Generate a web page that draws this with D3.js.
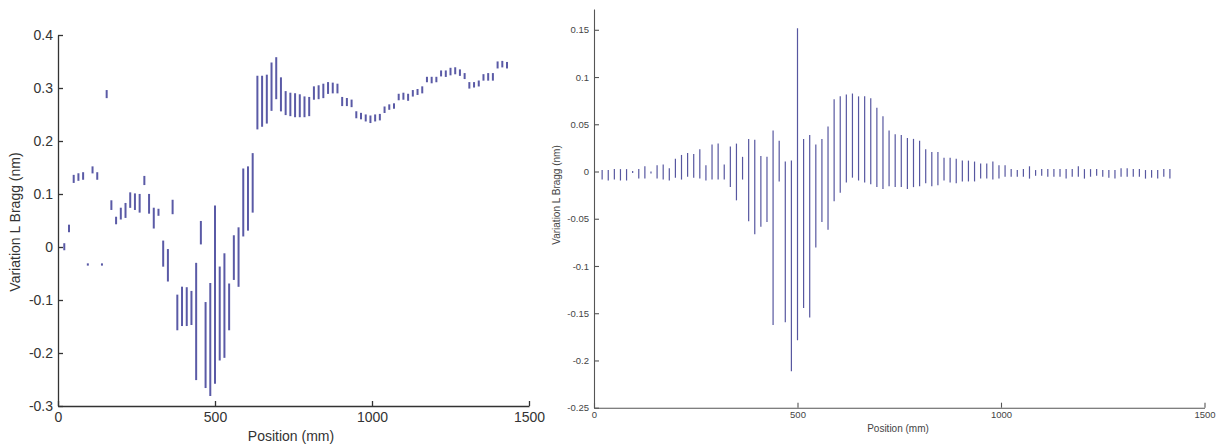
<!DOCTYPE html>
<html>
<head>
<meta charset="utf-8">
<script src="https://cdn.jsdelivr.net/npm/d3@7"></script>
<style>
  html, body { margin: 0; padding: 0; background: #fff; }
  svg { display: block; font-family: "Liberation Sans", Arial, sans-serif; }
</style>
</head>
<body>
<svg id="chart" width="1220" height="447"></svg>
<script>
// Positions along the grating (mm)
const positionsMm = [20, 35, 50, 65, 80, 95, 110, 125, 140, 155, 170, 185, 200, 215, 230, 245, 260, 275, 290, 305,
  320, 335, 350, 365, 380, 395, 410, 425, 440, 455, 470, 485, 500, 515, 530, 545, 560, 575, 590, 605,
  620, 635, 650, 665, 680, 695, 710, 725, 740, 755, 770, 785, 800, 815, 830, 845, 860, 875, 890, 905,
  920, 935, 950, 965, 980, 995, 1010, 1025, 1040, 1055, 1070, 1085, 1100, 1115, 1130, 1145, 1160, 1175, 1190, 1205,
  1220, 1235, 1250, 1265, 1280, 1295, 1310, 1325, 1340, 1355, 1370, 1385, 1400, 1415, 1430];

// Left panel: range of Bragg variation (nm) at each position
const leftLow = [-0.005, 0.029, 0.122, 0.126, 0.128, -0.034, 0.140, 0.128, -0.034, 0.282,
  0.071, 0.044, 0.053, 0.056, 0.075, 0.071, 0.066, 0.118, 0.064, 0.036,
  0.060, -0.036, -0.064, 0.063, -0.156, -0.148, -0.148, -0.146, -0.250, 0.006,
  -0.265, -0.280, -0.257, -0.213, -0.208, -0.156, -0.061, -0.074, 0.021, 0.032,
  0.066, 0.223, 0.228, 0.234, 0.258, 0.280, 0.257, 0.250, 0.248, 0.246,
  0.246, 0.246, 0.248, 0.279, 0.280, 0.282, 0.290, 0.291, 0.291, 0.267,
  0.267, 0.265, 0.244, 0.242, 0.238, 0.235, 0.238, 0.240, 0.254, 0.260,
  0.262, 0.278, 0.279, 0.277, 0.285, 0.288, 0.291, 0.312, 0.310, 0.312,
  0.323, 0.322, 0.325, 0.327, 0.324, 0.318, 0.300, 0.302, 0.304, 0.315,
  0.315, 0.315, 0.338, 0.340, 0.338];
const leftHigh = [0.006, 0.041, 0.135, 0.138, 0.140, -0.032, 0.151, 0.140, -0.032, 0.295,
  0.087, 0.056, 0.073, 0.082, 0.102, 0.100, 0.099, 0.133, 0.099, 0.073,
  0.071, 0.011, -0.005, 0.088, -0.091, -0.076, -0.077, -0.084, -0.031, 0.048,
  -0.105, -0.069, 0.077, -0.038, -0.013, -0.070, 0.021, 0.036, 0.147, 0.151,
  0.176, 0.322, 0.322, 0.324, 0.347, 0.357, 0.319, 0.293, 0.290, 0.289,
  0.287, 0.283, 0.282, 0.302, 0.304, 0.307, 0.310, 0.309, 0.307, 0.282,
  0.280, 0.277, 0.255, 0.252, 0.249, 0.247, 0.249, 0.250, 0.264, 0.268,
  0.270, 0.288, 0.290, 0.288, 0.295, 0.297, 0.302, 0.320, 0.320, 0.320,
  0.332, 0.332, 0.337, 0.338, 0.334, 0.327, 0.310, 0.310, 0.313, 0.325,
  0.327, 0.327, 0.349, 0.350, 0.348];

// Right panel: range of Bragg variation (nm) at each position (first 94 positions)
const rightLow = [-0.008, -0.009, -0.008, -0.009, -0.009, -0.001, -0.007, -0.007, -0.0015, -0.007,
  -0.008, -0.009, -0.006, -0.008, -0.005, -0.006, -0.007, -0.009, -0.008, -0.008,
  -0.008, -0.016, -0.030, -0.008, -0.052, -0.066, -0.058, -0.053, -0.162, -0.010,
  -0.159, -0.211, -0.178, -0.144, -0.154, -0.080, -0.053, -0.061, -0.031, -0.022,
  -0.011, -0.006, -0.009, -0.011, -0.013, -0.016, -0.018, -0.015, -0.016, -0.016,
  -0.018, -0.016, -0.015, -0.012, -0.015, -0.014, -0.009, -0.011, -0.012, -0.010,
  -0.010, -0.010, -0.007, -0.007, -0.008, -0.007, -0.005, -0.005, -0.005, -0.005,
  -0.007, -0.004, -0.004, -0.005, -0.005, -0.005, -0.007, -0.005, -0.005, -0.007,
  -0.005, -0.004, -0.005, -0.006, -0.007, -0.005, -0.005, -0.005, -0.005, -0.007,
  -0.006, -0.007, -0.005, -0.007];
const rightHigh = [0.001, 0.001, 0.002, 0.002, 0.002, 0.000, 0.002, 0.005, -0.0005, 0.006,
  0.007, 0.003, 0.013, 0.017, 0.019, 0.018, 0.023, 0.006, 0.028, 0.029,
  0.007, 0.026, 0.029, 0.015, 0.034, 0.033, 0.016, 0.015, 0.043, 0.032,
  0.010, 0.011, 0.151, 0.034, 0.038, 0.028, 0.034, 0.047, 0.076, 0.079,
  0.081, 0.082, 0.079, 0.079, 0.077, 0.067, 0.058, 0.043, 0.039, 0.038,
  0.035, 0.034, 0.032, 0.023, 0.020, 0.020, 0.014, 0.014, 0.013, 0.011,
  0.011, 0.010, 0.008, 0.008, 0.010, 0.006, 0.006, 0.002, 0.001, 0.002,
  0.005, 0.001, 0.002, 0.002, 0.002, 0.002, 0.002, 0.002, 0.005, 0.002,
  0.002, 0.002, 0.001, 0.001, 0.001, 0.003, 0.003, 0.002, 0.002, 0.001,
  0.001, 0.001, 0.002, 0.002];

const xTicks = [0, 500, 1000, 1500];
const leftYTicks = [-0.3, -0.2, -0.1, 0, 0.1, 0.2, 0.3, 0.4];
const rightYTicks = [-0.25, -0.2, -0.15, -0.1, -0.05, 0, 0.05, 0.1, 0.15];
const yLabel = "Variation L Bragg (nm)";
const xLabel = "Position (mm)";

const fmt = d => String(+d.toFixed(2));
const svg = d3.select("#chart");
svg.append("rect").attr("width", 1220).attr("height", 447).attr("fill", "#fff");

function panel(cfg) {
  const x = d3.scaleLinear().domain([0, 1500]).range(cfg.xr);
  const y = d3.scaleLinear().domain(cfg.yd).range(cfg.yr);
  const g = svg.append("g");

  const rows = cfg.low.map((lo, i) => ({ pos: positionsMm[i], lo: lo, hi: cfg.high[i] }));
  g.append("g").selectAll("line").data(rows).join("line")
    .attr("x1", d => x(d.pos)).attr("x2", d => x(d.pos))
    .attr("y1", d => y(d.lo) + cfg.minHalf).attr("y2", d => y(d.hi) - cfg.minHalf)
    .attr("stroke", cfg.color).attr("stroke-width", cfg.sw);

  const ax = g.append("g").attr("transform", `translate(0,${cfg.yr[0]})`)
    .call(d3.axisBottom(x).tickValues(xTicks).tickFormat(d => String(d))
      .tickSizeInner(-cfg.tick).tickSizeOuter(0).tickPadding(cfg.xpad));
  const ay = g.append("g").attr("transform", `translate(${cfg.xr[0]},0)`)
    .call(d3.axisLeft(y).tickValues(cfg.yticks).tickFormat(fmt)
      .tickSizeInner(-cfg.tick).tickSizeOuter(0).tickPadding(cfg.ypad));
  [ax, ay].forEach(a => {
    a.select(".domain").attr("stroke", cfg.axis).attr("stroke-width", cfg.aw);
    a.selectAll(".tick line").attr("stroke", cfg.axis).attr("stroke-width", cfg.aw);
    a.selectAll(".tick text").attr("fill", cfg.text).style("font-size", cfg.fs + "px")
      .style("font-family", '"Liberation Sans", Arial, sans-serif');
  });

  g.append("text").attr("transform", `translate(${cfg.ylx},${cfg.yly}) rotate(-90)`)
    .attr("text-anchor", "middle").attr("fill", cfg.text).style("font-size", cfg.lfs + "px").text(yLabel);
  g.append("text").attr("x", cfg.xlx).attr("y", cfg.xly)
    .attr("text-anchor", "middle").attr("fill", cfg.text).style("font-size", cfg.lfs + "px").text(xLabel);
}

panel({
  xr: [58, 529], yd: [-0.3, 0.4], yr: [406, 35], low: leftLow, high: leftHigh,
  yticks: leftYTicks, color: "#5a5aa6", sw: 2, minHalf: 0.6, tick: 5,
  axis: "#333", aw: 1.3, text: "#333", fs: 14, lfs: 14, xpad: 6, ypad: 5,
  ylx: 19.5, yly: 222, xlx: 291, xly: 441
});

panel({
  xr: [594, 1204.5], yd: [-0.25, 0.172], yr: [407.7, 9], low: rightLow, high: rightHigh,
  yticks: rightYTicks, color: "#5757a0", sw: 1.2, minHalf: 0.5, tick: 5,
  axis: "#555", aw: 1.1, text: "#444", fs: 9.5, lfs: 10, xpad: 4, ypad: 5,
  ylx: 560, yly: 195, xlx: 898, xly: 432
});
</script>
</body>
</html>
